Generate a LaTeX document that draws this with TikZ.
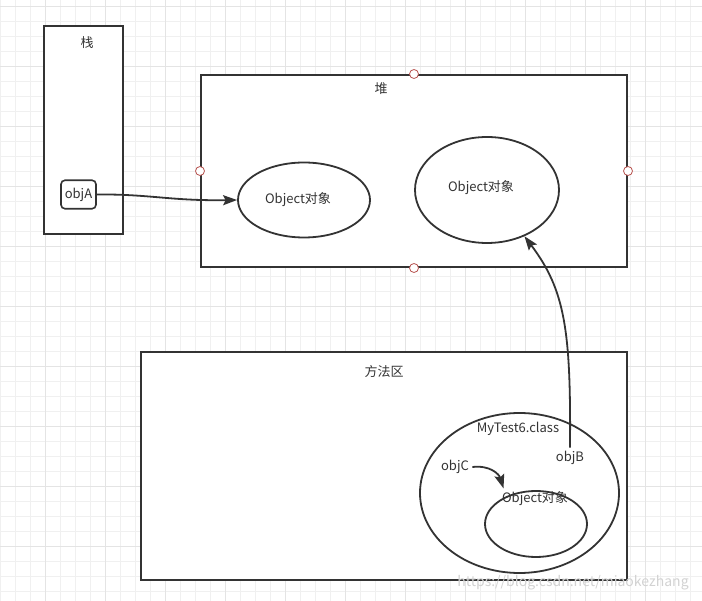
\documentclass[tikz,border=0pt]{standalone}
\usepackage{fontspec}
\setmainfont{Noto Sans CJK SC}
\usetikzlibrary{arrows.meta,shapes.geometric}
\definecolor{ink}{HTML}{333333}
\definecolor{gridln}{HTML}{F0F0F0}
\definecolor{gridmaj}{HTML}{E4E4E4}
\definecolor{portred}{HTML}{B85450}
\begin{document}
\begin{tikzpicture}[x=1pt,y=-1pt,>={Stealth[length=14pt,width=10pt,inset=2.5pt]},
  area/.style={draw=ink,line width=2pt,fill=white,inner sep=0pt},
  obj/.style={ellipse,draw=ink,line width=1.8pt,fill=white,inner sep=0pt},
  txt/.style={text=ink,font=\fontsize{13}{15}\selectfont},
  port/.style={circle,draw=portred,fill=white,line width=0.8pt,minimum size=9pt,inner sep=0pt},
  conn/.style={draw=ink,line width=1.8pt}]
 \useasboundingbox (0,0) rectangle (702,601);
 \fill[white] (0,0) rectangle (702,601);
 % grid
 \foreach \g in {0.7,15.7,...,702} \draw[gridln,line width=0.8pt] (\g,0) -- (\g,601);
 \foreach \g in {6.7,21.7,...,601} \draw[gridln,line width=0.8pt] (0,\g) -- (702,\g);
 \foreach \g in {45.7,105.7,...,702} \draw[gridmaj,line width=1pt] (\g,0) -- (\g,601);
 \foreach \g in {6.7,66.7,...,601} \draw[gridmaj,line width=1pt] (0,\g) -- (702,\g);
 % areas
 \node[area,minimum width=79,minimum height=208] (stack) at (83.5,130) {};
 \node[txt] (stacklbl) at (87,43) {栈};
 \node[area,minimum width=426,minimum height=192] (heap) at (414,171) {};
 \node[txt] (heaplbl) at (381,89) {堆};
 \node[area,minimum width=486,minimum height=228] (method) at (384,466) {};
 \node[txt] (methodlbl) at (384,372) {方法区};
 \foreach \a in {north,west,east,south}
  \node[port] (port-\a) at (heap.\a) {};
 % objects
 \node[area,rounded corners=4pt,line width=1.6pt,minimum width=35,minimum height=28.5,txt]
      (objA) at (78.5,194.5) {objA};
 \node[obj,minimum width=132,minimum height=75] (obj1) at (304,200) {};
 \node[txt] (obj1lbl) at (298,200) {Object对象};
 \node[obj,minimum width=144,minimum height=106] (obj2) at (487,190) {};
 \node[txt] (obj2lbl) at (481,188) {Object对象};
 \node[obj,minimum width=199,minimum height=160] (classobj) at (519.5,493) {};
 \node[txt] (classlbl) at (518,429) {MyTest6.class};
 \node[obj,minimum width=102,minimum height=66] (obj3) at (536,524) {};
 \node[txt] (obj3lbl) at (535,499) {Object对象};
 \node[txt] (objB) at (570,458) {objB};
 \node[txt] (objC) at (455,467) {objC};
 % references
 \draw[->,conn] (objA.east) .. controls (150,194) and (170,201) .. (obj1.west);
 \draw[->,conn] (objB.north) .. controls (571,330) and (565,290) .. (obj2.-51);
 \draw[->,conn] (objC.east) .. controls (490,465) and (499,474) .. ([xshift=5pt]obj3lbl.north west);
 \node[text=gray!35,font=\fontsize{14}{16}\selectfont] (mark) at (573,583) {https://blog.csdn.net/miaokezhang};
\end{tikzpicture}
\end{document}
